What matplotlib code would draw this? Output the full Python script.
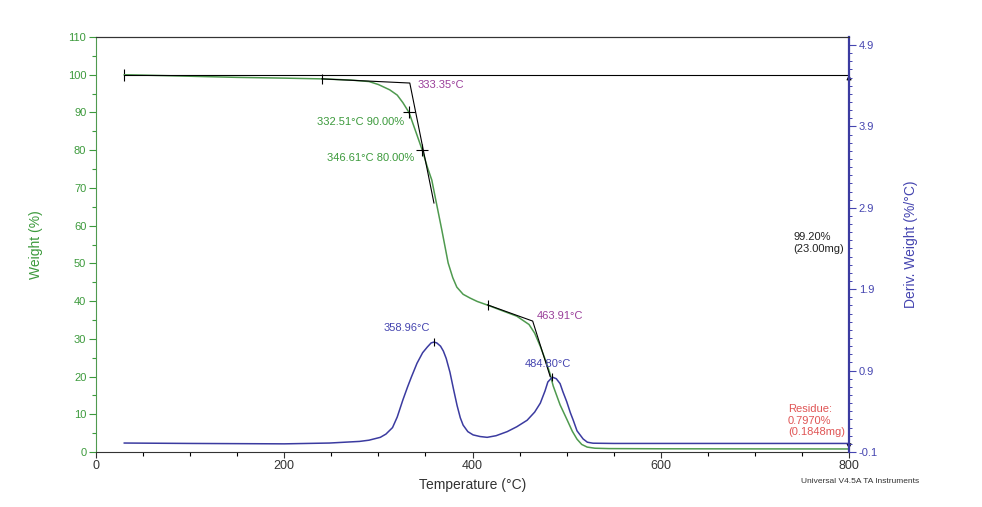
import numpy as np
import matplotlib.pyplot as plt
from matplotlib.ticker import MultipleLocator, FixedLocator

plt.rcParams["font.family"] = ["Liberation Sans", "DejaVu Sans"]

temp_w = [30, 50, 100, 150, 200, 240, 270, 290, 300, 312, 320, 326, 332.5,
          340, 346.6, 352, 356.7, 360.3, 367.4, 374.1, 379, 383.3, 390, 397.4,
          405, 415.2, 430, 447, 460, 466, 472, 478, 482, 485.7, 493, 500.5,
          506, 511, 516, 521.8, 530, 545, 600, 700, 800]
weight = [100, 99.9, 99.6, 99.3, 99.1, 98.9, 98.6, 98.2, 97.4, 96.0, 94.6,
          92.6, 90.0, 84.7, 80.0, 75.5, 72.1, 67.6, 58.8, 50.1, 46.2, 43.7,
          41.8, 40.8, 39.9, 39.0, 37.6, 36.0, 33.8, 31.5, 28.0, 24.0, 21.0,
          17.5, 12.5, 8.5, 5.5, 3.4, 2.0, 1.3, 1.0, 0.9, 0.85, 0.82, 0.8]

temp_d = [30, 100, 200, 248, 280, 290, 302, 308, 315, 320, 326, 331, 335,
          341, 347, 352, 356, 358.96, 362, 366, 369, 372, 376, 380, 383.6,
          387, 390, 395, 400.6, 408, 415.5, 425, 436.8, 447, 458, 466, 472,
          477, 480, 484.8, 489, 493, 496, 500, 504, 507, 511, 517.5, 522,
          528, 550, 650, 800]
deriv = [0.01, 0.005, 0.0, 0.01, 0.03, 0.045, 0.08, 0.12, 0.2, 0.33, 0.54,
         0.7, 0.82, 0.99, 1.12, 1.19, 1.24, 1.25, 1.24, 1.2, 1.14, 1.05,
         0.88, 0.66, 0.47, 0.32, 0.23, 0.15, 0.11, 0.09, 0.08, 0.10, 0.15,
         0.21, 0.29, 0.39, 0.50, 0.65, 0.76, 0.82, 0.80, 0.74, 0.64, 0.52,
         0.38, 0.29, 0.16, 0.06, 0.02, 0.008, 0.005, 0.005, 0.005]

# onset tangents (temperature, weight)
tan1_t = [240, 333.35, 359]
tan1_w = [98.9, 97.8, 66.0]
tan2_t = [416, 463.91, 482.5]
tan2_w = [39.0, 34.7, 20.0]

GREEN = "#4f9a4f"
GREEN_TXT = "#3c9a3c"
BLUE = "#3b3ba0"
BLUE_TXT = "#4545b0"
PURPLE = "#9a3f9a"
RED = "#e05555"

# ── Figure ─────────────────────────────────────────────────────────────────
fig = plt.figure(figsize=(9.82, 5.07), dpi=100)
ax = fig.add_axes([0.0978, 0.1085, 0.7668, 0.8185])
ax2 = ax.twinx()

ax.plot(temp_w, weight, color=GREEN, lw=1.1, zorder=3)
ax2.plot(temp_d, deriv, color=BLUE, lw=1.1, zorder=3)

# tangent construction lines
ax.plot(tan1_t, tan1_w, color="black", lw=0.8, zorder=4)
ax.plot(tan2_t, tan2_w, color="black", lw=0.8, zorder=4)
ax.plot([tan1_t[0], tan2_t[0]], [tan1_w[0], tan2_w[0]], ls="none",
        marker="|", ms=7, mew=0.8, color="black", zorder=5)
ax.plot([332.51, 346.61], [90.0, 80.0], ls="none", marker="+", ms=9,
        mew=0.8, color="black", zorder=5)
ax2.plot([358.96, 484.80], [1.25, 0.82], ls="none", marker="|", ms=6,
         mew=0.8, color="black", zorder=5)

# weight-change bar: 100 % line and vertical double arrow at 800 °C
ax.plot([30, 800], [100, 100], color="black", lw=0.8, zorder=4)
ax.plot([30], [100], marker="|", ms=8, mew=0.8, color="black")
ax.annotate("", xy=(800, 0.8), xytext=(800, 100),
            arrowprops=dict(arrowstyle="<|-|>", color="black", lw=0.8,
                            mutation_scale=7, shrinkA=0, shrinkB=0),
            zorder=6)

# ── Axes styling ───────────────────────────────────────────────────────────
ax.set_xlim(0, 800)
ax.set_ylim(0, 110)
ax2.set_ylim(-0.1, 4.998)

ax.xaxis.set_major_locator(MultipleLocator(200))
ax.xaxis.set_minor_locator(MultipleLocator(50))
ax.yaxis.set_major_locator(MultipleLocator(10))
ax.yaxis.set_minor_locator(MultipleLocator(5))
ax2.yaxis.set_major_locator(FixedLocator([-0.1, 0.9, 1.9, 2.9, 3.9, 4.9]))
ax2.yaxis.set_minor_locator(FixedLocator(np.arange(-0.1, 4.95, 0.1)))
ax2.set_yticklabels(["-0.1", "0.9", "1.9", "2.9", "3.9", "4.9"])

ax.tick_params(axis="x", direction="out", length=4, width=0.8,
               labelsize=9, colors="#333333", pad=2)
ax.tick_params(axis="x", which="minor", length=3, width=0.8)
ax.tick_params(axis="y", direction="out", length=5, width=0.8,
               labelsize=8, colors=GREEN_TXT, pad=2)
ax.tick_params(axis="y", which="minor", length=3, width=0.8,
               colors=GREEN_TXT)
ax2.tick_params(axis="y", direction="out", length=5, width=0.8,
                labelsize=8, colors=BLUE_TXT, pad=2)
ax2.tick_params(axis="y", which="minor", length=2.5, width=0.7,
                colors=BLUE_TXT)

ax.spines["left"].set_color(GREEN)
ax.spines["bottom"].set_color("#333333")
ax.spines["top"].set_color("#333333")
ax2.spines["left"].set_visible(False)
ax2.spines["bottom"].set_visible(False)
ax2.spines["top"].set_color("#333333")
ax2.spines["right"].set_color(BLUE)
ax2.spines["right"].set_linewidth(1.6)
ax.spines["right"].set_visible(False)

ax.set_xlabel("Temperature (°C)", fontsize=10, color="#333333", labelpad=4)
ax.set_ylabel("Weight (%)", fontsize=10, color=GREEN_TXT, labelpad=18)
ax2.set_ylabel("Deriv. Weight (%/°C)", fontsize=10, color=BLUE_TXT,
               labelpad=19)

# ── Annotations ────────────────────────────────────────────────────────────
fs = 8
ax.text(342, 97.3, "333.35°C", color=PURPLE, fontsize=fs, va="center")
ax.text(327, 87.6, "332.51°C 90.00%", color=GREEN_TXT, fontsize=fs,
        ha="right", va="center")
ax.text(338, 78.0, "346.61°C 80.00%", color=GREEN_TXT, fontsize=fs,
        ha="right", va="center")
ax.text(468, 36.0, "463.91°C", color=PURPLE, fontsize=fs, va="center")
ax2.text(330, 1.42, "358.96°C", color=BLUE_TXT, fontsize=fs, va="center",
         ha="center")
ax2.text(455, 0.98, "484.80°C", color=BLUE_TXT, fontsize=fs, va="center")
ax.text(741, 55.4, "99.20%\n(23.00mg)", color="#222222", fontsize=fs,
        va="center", linespacing=1.2)
ax.text(735, 8.3, "Residue:\n0.7970%\n(0.1848mg)", color=RED, fontsize=fs,
        va="center", linespacing=1.2)

fig.text(0.876, 0.051, "Universal V4.5A TA Instruments", fontsize=6,
         color="#333333", ha="center", va="center")

fig.savefig("out.png", dpi=100)
plt.close(fig)
